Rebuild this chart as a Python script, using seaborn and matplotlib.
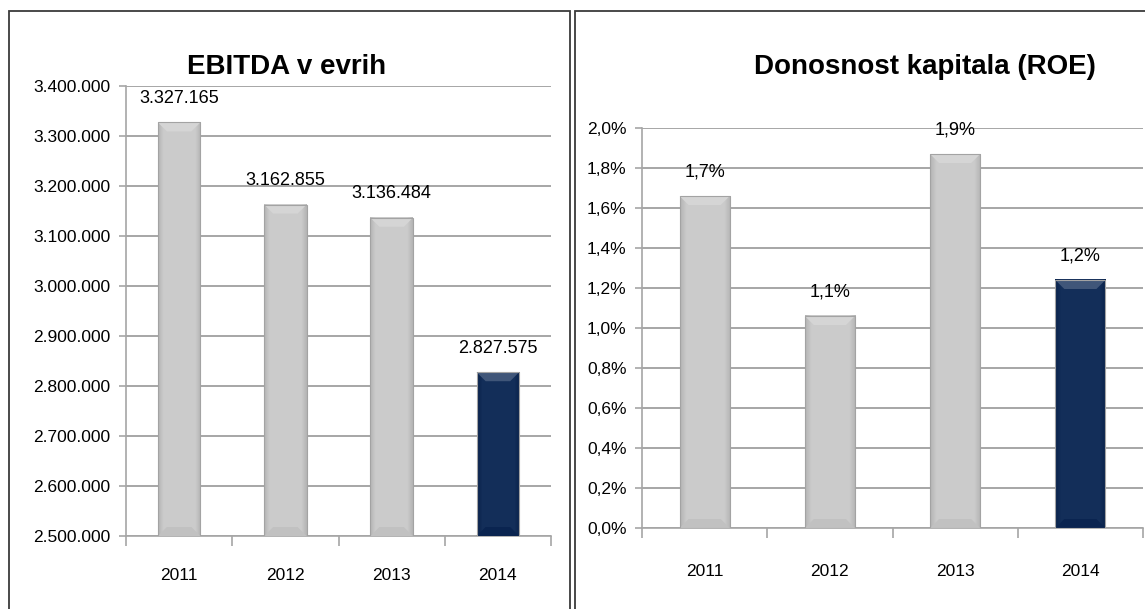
import matplotlib
matplotlib.use("Agg")
import matplotlib.pyplot as plt
from matplotlib.patches import Rectangle, Polygon
from matplotlib.colors import to_rgb
from matplotlib.ticker import FixedLocator, FuncFormatter
import numpy as np
import seaborn as sns
import pandas as pd

# --- data -------------------------------------------------------------
years = ["2011", "2012", "2013", "2014"]
ebitda = [3327165, 3162855, 3136484, 2827575]
roe = [0.0166, 0.0106, 0.0187, 0.0124]

ebitda_ticks = [2500000, 2600000, 2700000, 2800000, 2900000,
                3000000, 3100000, 3200000, 3300000, 3400000]
roe_ticks = [0.0, 0.002, 0.004, 0.006, 0.008, 0.010,
             0.012, 0.014, 0.016, 0.018, 0.020]

title_left = "EBITDA v evrih"
title_right = "Donosnost kapitala (ROE)"

bar_colors = ["#c9c9c9", "#c9c9c9", "#c9c9c9", "#0a2653"]

# --- style ------------------------------------------------------------
sns.set_theme(style="white")
plt.rcParams["font.family"] = ["Liberation Sans Narrow", "Liberation Sans", "DejaVu Sans"]

GRID = "#a6a6a6"
FS = 12.5

fig = plt.figure(figsize=(11.45, 6.09), dpi=100)
W, H = 1145, 609


def px_axes(x0, y0, x1, y1):
    return fig.add_axes([x0 / W, 1 - y1 / H, (x1 - x0) / W, (y1 - y0) / H])


def thousands(v, _pos=None):
    return f"{v:,.0f}".replace(",", ".")


def percent(v, _pos=None):
    return f"{v * 100:.1f}%".replace(".", ",")


def shade(color, f):
    r, g, b = to_rgb(color)
    if f >= 0:
        return (r + (1 - r) * f, g + (1 - g) * f, b + (1 - b) * f)
    return (r * (1 + f), g * (1 + f), b * (1 + f))


def bevel_bars(ax, base_colors, ax_w_px, ax_h_px):
    """Give each bar a soft horizontal gradient and bevelled top/bottom."""
    x_lo, x_hi = ax.get_xlim()
    y_lo, y_hi = ax.get_ylim()
    dx = (x_hi - x_lo) / ax_w_px
    dy = (y_hi - y_lo) / ax_h_px
    t = np.linspace(0, 1, 64)
    prof = np.clip((1 - np.abs(t - 0.5) * 2) * 4, 0, 1)  # dark only near edges
    for p, c in zip(ax.patches, base_colors):
        x0 = p.get_x()
        w = p.get_width()
        y0 = max(p.get_y(), y_lo)
        y1 = p.get_y() + p.get_height()
        lo = np.array(shade(c, -0.10))
        hi = np.array(shade(c, 0.04))
        grad = lo[None, :] + (hi - lo)[None, :] * prof[:, None]
        ax.imshow(grad[None, :, :], extent=[x0, x0 + w, y0, y1],
                  aspect="auto", zorder=3.2, interpolation="bilinear")
        bx, by = 9 * dx, 9 * dy
        top = Polygon([[x0, y1], [x0 + w, y1],
                       [x0 + w - bx, y1 - by], [x0 + bx, y1 - by]],
                      closed=True, facecolor=shade(c, 0.22), edgecolor="none",
                      zorder=3.4)
        bot = Polygon([[x0, y0], [x0 + w, y0],
                       [x0 + w - bx, y0 + by], [x0 + bx, y0 + by]],
                      closed=True, facecolor=shade(c, -0.04), edgecolor="none",
                      zorder=3.4)
        ax.add_patch(top)
        ax.add_patch(bot)
        p.set_zorder(3.5)
        p.set_facecolor("none")
    ax.set_xlim(x_lo, x_hi)
    ax.set_ylim(y_lo, y_hi)


def draw_panel(ax, values, ticks, fmt, title, title_x, title_y, size_px, xpad):
    df = pd.DataFrame({"year": years, "value": values})
    sns.barplot(data=df, x="year", y="value", hue="year", palette=bar_colors,
                width=0.4, legend=False, ax=ax, edgecolor="#a3a3a3",
                linewidth=0.8, zorder=3)
    ax.set_ylim(ticks[0], ticks[-1])
    ax.set_xlim(-0.5, len(years) - 0.5)
    bevel_bars(ax, bar_colors, *size_px)
    ax.yaxis.set_major_locator(FixedLocator(ticks))
    ax.yaxis.set_major_formatter(FuncFormatter(fmt))
    ax.grid(axis="y", color=GRID, linewidth=1.4, zorder=0)
    ax.set_axisbelow(True)
    for side in ("top", "right"):
        ax.spines[side].set_visible(False)
    for side in ("left", "bottom"):
        ax.spines[side].set_color(GRID)
        ax.spines[side].set_linewidth(1.2)
    ax.set_xlabel("")
    ax.set_ylabel("")
    ax.tick_params(axis="y", which="major", left=True, length=5, width=1.2,
                   color=GRID, labelsize=FS, pad=6)
    ax.tick_params(axis="x", which="major", bottom=False, labelsize=FS, pad=xpad)
    ax.xaxis.set_minor_locator(FixedLocator([i - 0.5 for i in range(len(years) + 1)]))
    ax.tick_params(axis="x", which="minor", bottom=True, length=7, width=1.2,
                   color=GRID, direction="out")
    for lbl in ax.get_xticklabels() + ax.get_yticklabels():
        lbl.set_color("black")
    for i, v in enumerate(values):
        ax.annotate(fmt(v), (i, v), xytext=(0, 11), textcoords="offset points",
                    ha="center", va="bottom", fontsize=FS + 0.5, color="black",
                    annotation_clip=False, zorder=5)
    fig.text(title_x, title_y, title, ha="center", va="center",
             fontsize=20, fontweight="bold", color="black")


ax_l = px_axes(126, 86, 551, 536)
ax_r = px_axes(642, 128, 1143, 528)

draw_panel(ax_l, ebitda, ebitda_ticks, thousands, title_left,
           287 / W, 1 - 67 / H, (425, 450), 17)
draw_panel(ax_r, roe, roe_ticks, percent, title_right,
           925 / W, 1 - 67 / H, (501, 400), 20)

# panel frames
fig.patches.append(Rectangle((9 / W, -0.05), (570 - 9) / W, 1 - 11 / H + 0.05,
                             transform=fig.transFigure, fill=False,
                             edgecolor="#3a3a3a", linewidth=1.3, zorder=0))
fig.patches.append(Rectangle((575 / W, -0.05), 1.0, 1 - 11 / H + 0.05,
                             transform=fig.transFigure, fill=False,
                             edgecolor="#3a3a3a", linewidth=1.3, zorder=0))

fig.savefig("out.png", dpi=100, facecolor="white")
